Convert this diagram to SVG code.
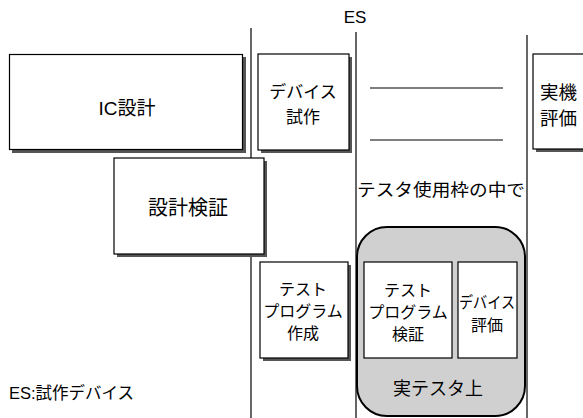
<svg xmlns="http://www.w3.org/2000/svg" width="583" height="418" viewBox="0 0 583 418">
<style>
text{font-family:"Liberation Sans","Noto Sans CJK JP",sans-serif;fill:#000;text-anchor:middle;dominant-baseline:central}
.box{fill:#fff;stroke:#000;stroke-width:1.2}
.sh{fill:#555}
.ln{stroke:#000;stroke-width:1.2;fill:none}
.f17{font-size:17px}
.f16{font-size:16px}
</style>
<g id="connectors">
<line class="ln" x1="251" y1="28" x2="251" y2="418"/>
<line class="ln" x1="356" y1="32" x2="356" y2="418"/>
<line class="ln" x1="527" y1="35" x2="527" y2="418"/>
<line class="ln" x1="370" y1="88" x2="503" y2="88"/>
<line class="ln" x1="370" y1="140" x2="503" y2="140"/>
</g>
<g id="es-label"><text class="f17" x="355" y="17">ES</text></g>
<g id="ic">
<rect class="sh" x="12" y="57" width="234" height="96"/>
<rect class="box" x="9.5" y="54.5" width="233" height="95"/>
<text x="127" y="108" style="font-size:19px">IC設計</text>
</g>
<g id="verify">
<rect class="sh" x="117" y="161" width="150" height="96"/>
<rect class="box" x="114" y="158" width="150" height="96"/>
<text x="188" y="208" style="font-size:20px">設計検証</text>
</g>
<g id="proto">
<rect class="sh" x="261" y="57" width="91" height="96"/>
<rect class="box" x="258" y="54" width="91" height="96"/>
<text class="f17" x="303" y="92">デバイス</text>
<text class="f17" x="303" y="117">試作</text>
</g>
<g id="real">
<rect class="sh" x="536" y="57" width="60" height="95"/>
<rect class="box" x="533" y="54" width="60" height="95"/>
<text x="540" y="92" style="text-anchor:start;font-size:18.5px">実機</text>
<text x="540" y="118" style="text-anchor:start;font-size:18.5px">評価</text>
</g>
<g id="tester-frame"><text class="f17" x="441" y="190" textLength="168" lengthAdjust="spacingAndGlyphs">テスタ使用枠の中で</text></g>
<g id="create">
<rect class="sh" x="263" y="265" width="88" height="96"/>
<rect class="box" x="260" y="262" width="88" height="96"/>
<text class="f16" x="303" y="289">テスト</text>
<text class="f16" x="303" y="311">プログラム</text>
<text class="f16" x="303" y="333">作成</text>
</g>
<g id="tester">
<rect x="357" y="227" width="168" height="189" rx="30" ry="30" fill="#d0d0d0" stroke="#000" stroke-width="2"/>
<text x="438" y="389" style="font-size:18px">実テスタ上</text>
</g>
<g id="pgverify">
<rect class="box" x="364" y="262" width="88" height="96"/>
<text class="f16" x="408" y="290">テスト</text>
<text class="f16" x="408" y="312">プログラム</text>
<text class="f16" x="408" y="334">検証</text>
</g>
<g id="deveval">
<rect class="box" x="458" y="262" width="59" height="96"/>
<text class="f16" x="487" y="302" textLength="56" lengthAdjust="spacingAndGlyphs">デバイス</text>
<text class="f16" x="487" y="325">評価</text>
</g>
<g id="legend"><text x="9" y="393" style="text-anchor:start;font-size:16.5px">ES:試作デバイス</text></g>
</svg>
